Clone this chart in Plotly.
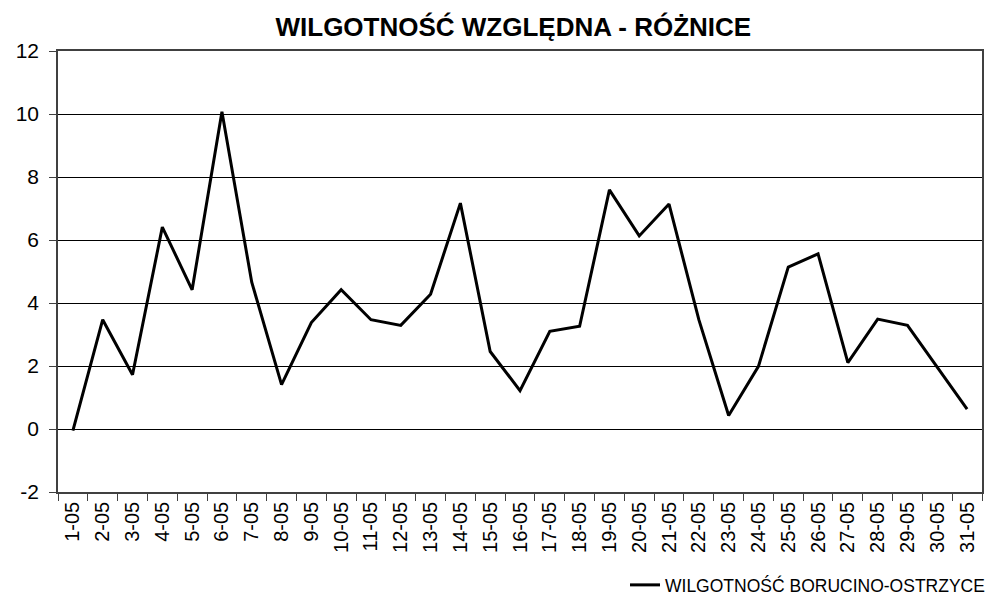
import plotly.graph_objects as go

days = [f"{d}-05" for d in range(1, 32)]
wilgotnosc_roznice = [
    -0.05, 3.47, 1.72, 6.41, 4.42, 10.07, 4.66, 1.41, 3.38, 4.42,
    3.47, 3.29, 4.28, 7.17, 2.46, 1.22, 3.10, 3.26, 7.59, 6.13,
    7.14, 3.47, 0.43, 1.99, 5.14, 5.56, 2.11, 3.49, 3.29, 1.95, 0.63,
]
y_ticks = [-2, 0, 2, 4, 6, 8, 10, 12]
title_text = "WILGOTNOŚĆ WZGLĘDNA - RÓŻNICE"
series_name = "WILGOTNOŚĆ BORUCINO-OSTRZYCE"

FONT = "Liberation Sans, Arial, sans-serif"

fig = go.Figure()
fig.add_trace(go.Scatter(
    x=days, y=wilgotnosc_roznice, mode="lines", name=series_name,
    line=dict(color="black", width=3),
))

fig.update_layout(
    width=991, height=602,
    margin=dict(l=58, r=9, t=51, b=110, autoexpand=False),
    paper_bgcolor="white", plot_bgcolor="white",
    font=dict(family=FONT, color="black", size=20),
    title=dict(text=f"<b>{title_text}</b>", x=0.518, xanchor="center",
               y=0.955, yanchor="middle", font=dict(size=26, family=FONT)),
    showlegend=True,
    legend=dict(orientation="h", xref="container", yref="container",
                x=0.999, xanchor="right", y=1 - 585 / 602, yanchor="middle",
                font=dict(size=17.5, family=FONT), bgcolor="rgba(0,0,0,0)"),
    xaxis=dict(
        type="category", range=[-0.5, 30.5], tickangle=-90, automargin=False,
        showline=True, linecolor="#404040", linewidth=1.5, mirror=True,
        ticks="outside", ticklen=7, tickcolor="#404040", tickson="boundaries",
        showgrid=False, tickfont=dict(size=20), fixedrange=True,
    ),
    yaxis=dict(
        range=[-2, 12], tickvals=y_ticks, ticktext=[str(v) for v in y_ticks],
        automargin=False, ticklabelstandoff=6,
        showline=True, linecolor="#404040", linewidth=1.5, mirror=True,
        ticks="outside", ticklen=7, tickcolor="#404040",
        showgrid=True, gridcolor="black", gridwidth=1, zeroline=False,
        tickfont=dict(size=21), fixedrange=True,
    ),
)

fig.write_html(
    "out.html",
    config={"displayModeBar": False},
    post_script="document.body.style.margin='0';document.body.style.padding='0';",
)
